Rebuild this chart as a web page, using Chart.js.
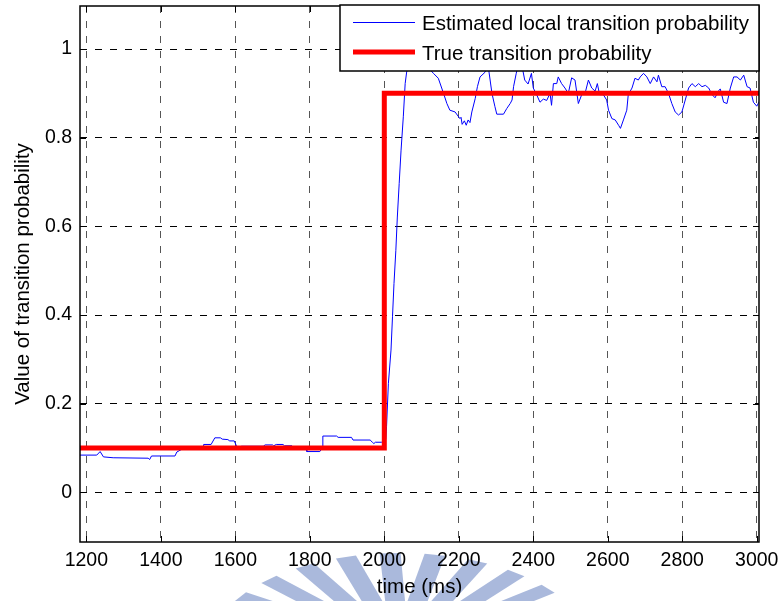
<!DOCTYPE html>
<html>
<head>
<meta charset="utf-8">
<script src="https://cdn.jsdelivr.net/npm/chart.js@4.4.1/dist/chart.umd.min.js"></script>
<style>
  html, body { margin: 0; padding: 0; background: #fff; }
  canvas { display: block; }
</style>
</head>
<body>
<canvas id="myChart" width="779" height="601"></canvas>
<script>
// estimated local transition probability (blue)
const estTime = [
  1183, 1228, 1237, 1246, 1272, 1366, 1370, 1375, 1438, 1443, 1456, 1500, 1514,
  1515, 1535, 1545, 1560, 1565, 1580, 1585, 1597, 1604, 1606, 1617, 1675, 1680,
  1700, 1703, 1710, 1728, 1732, 1752, 1756, 1790, 1792, 1827, 1833, 1835, 1872,
  1876, 1912, 1916, 1962, 1968, 1972, 1976, 1993, 2000,
  2004, 2006, 2011, 2018, 2022, 2026, 2031, 2035, 2040, 2045, 2051, 2056, 2060,
  2070, 2090, 2110, 2121, 2132, 2145, 2159, 2168, 2176, 2190, 2203, 2206, 2209,
  2215, 2220, 2225, 2230, 2235, 2244, 2250, 2257, 2271, 2276, 2280, 2289, 2297,
  2302, 2320, 2329, 2338, 2343, 2347, 2354, 2362, 2370, 2377, 2386, 2395, 2400,
  2409, 2418, 2427, 2436, 2445, 2449, 2454, 2463, 2467, 2476, 2485, 2494, 2503,
  2512, 2521, 2530, 2539, 2548, 2557, 2566, 2572, 2578, 2588, 2597, 2602, 2611,
  2620, 2629, 2634, 2642, 2651, 2655, 2665, 2673, 2682, 2687, 2696, 2705, 2714,
  2723, 2732, 2736, 2745, 2754, 2763, 2772, 2781, 2790, 2799, 2808, 2817, 2826,
  2835, 2844, 2853, 2862, 2871, 2880, 2888, 2897, 2902, 2911, 2920, 2929, 2938,
  2947, 2956, 2965, 2974, 2982, 2991, 3000, 3009
];
const estValue = [
  0.084, 0.084, 0.092, 0.080, 0.078, 0.077, 0.074, 0.082, 0.082, 0.091, 0.097, 0.098, 0.099,
  0.108, 0.108, 0.123, 0.123, 0.120, 0.119, 0.116, 0.116, 0.103, 0.100, 0.104, 0.104, 0.107,
  0.107, 0.105, 0.108, 0.108, 0.105, 0.105, 0.100, 0.099, 0.092, 0.092, 0.100, 0.127, 0.127,
  0.124, 0.124, 0.118, 0.118, 0.113, 0.110, 0.113, 0.113, 0.112,
  0.120, 0.148, 0.246, 0.321, 0.396, 0.471, 0.546, 0.621, 0.697, 0.772, 0.847, 0.922, 0.948,
  0.975, 0.990, 0.980, 0.955, 0.945, 0.934, 0.900, 0.877, 0.862, 0.858, 0.843, 0.846, 0.830,
  0.838, 0.828, 0.840, 0.834, 0.858, 0.888, 0.915, 0.937, 0.948, 0.970, 0.955, 0.900, 0.870,
  0.853, 0.853, 0.866, 0.877, 0.885, 0.915, 0.944, 0.975, 0.960, 0.930, 0.921, 0.945, 0.912,
  0.897, 0.880, 0.887, 0.884, 0.900, 0.873, 0.922, 0.922, 0.937, 0.922, 0.912, 0.900, 0.935,
  0.930, 0.877, 0.897, 0.900, 0.930, 0.912, 0.905, 0.922, 0.897, 0.897, 0.885, 0.862, 0.843,
  0.840, 0.828, 0.821, 0.840, 0.862, 0.897, 0.912, 0.934, 0.930, 0.937, 0.945, 0.937, 0.922,
  0.937, 0.926, 0.941, 0.915, 0.915, 0.900, 0.877, 0.858, 0.851, 0.858, 0.885, 0.912, 0.922,
  0.915, 0.922, 0.915, 0.918, 0.912, 0.897, 0.890, 0.905, 0.910, 0.880, 0.877, 0.912, 0.937,
  0.937, 0.930, 0.941, 0.915, 0.912, 0.880, 0.871, 0.885
];
// true transition probability (red)
const trueTime = [1180, 2000, 2000, 3010];
const trueValue = [0.1, 0.1, 0.9, 0.9];

const xTicks = [1200, 1400, 1600, 1800, 2000, 2200, 2400, 2600, 2800, 3000];
const yTicks = [0, 0.2, 0.4, 0.6, 0.8, 1];
const legendLabels = ['Estimated local transition probability', 'True transition probability'];

const FAMILY = "'Liberation Sans', Arial, Helvetica, sans-serif";

const toPoints = (xs, ys) => xs.map((x, i) => ({ x: x, y: ys[i] }));

// chart.js reserves room for end labels; the matlab plot does not
const noPad = s => { s.paddingLeft = s.paddingRight = s.paddingTop = s.paddingBottom = 0; };

// faint logo stripes behind the axis labels
const watermark = {
  id: 'watermark',
  beforeDraw(chart) {
    const ctx = chart.ctx;
    ctx.save();
    ctx.translate(400, 648);
    ctx.scale(1, 0.5);
    ctx.fillStyle = '#aab9dc';
    for (let i = 0; i < 9; i++) {
      const a = -1.0 + i * 0.237;
      const w = 0.055;
      const r1 = 190, r0 = 90;
      ctx.beginPath();
      ctx.moveTo(r0 * Math.sin(a - w * 2), -r0 * Math.cos(a - w * 2));
      ctx.lineTo(r1 * Math.sin(a - w), -r1 * Math.cos(a - w));
      ctx.lineTo(r1 * Math.sin(a + w), -r1 * Math.cos(a + w));
      ctx.lineTo(r0 * Math.sin(a + w * 2), -r0 * Math.cos(a + w * 2));
      ctx.closePath();
      ctx.fill();
    }
    ctx.restore();
  }
};

// matlab style box, inward ticks and legend
const frame = {
  id: 'frame',
  afterDraw(chart) {
    const { ctx, chartArea: a, scales: { x, y } } = chart;
    ctx.save();
    ctx.strokeStyle = '#000';
    ctx.lineWidth = 1;
    ctx.setLineDash([]);
    ctx.beginPath();
    xTicks.forEach(v => {
      const px = Math.round(x.getPixelForValue(v)) + 0.5;
      ctx.moveTo(px, a.bottom); ctx.lineTo(px, a.bottom - 6);
      ctx.moveTo(px, a.top); ctx.lineTo(px, a.top + 6);
    });
    yTicks.forEach(v => {
      const py = Math.round(y.getPixelForValue(v)) + 0.5;
      ctx.moveTo(a.left, py); ctx.lineTo(a.left + 6, py);
      ctx.moveTo(a.right, py); ctx.lineTo(a.right - 6, py);
    });
    ctx.stroke();
    ctx.lineWidth = 1.5;
    ctx.strokeRect(a.left, a.top, a.right - a.left, a.bottom - a.top);

    // legend box
    const lx = 340, ly = a.top - 1, lw = a.right - lx, lh = 71 - ly;
    ctx.fillStyle = '#fff';
    ctx.fillRect(lx, ly, lw, lh);
    ctx.lineWidth = 1.5;
    ctx.strokeRect(lx, ly, lw, lh);

    ctx.lineCap = 'butt';
    ctx.strokeStyle = '#0000ff';
    ctx.lineWidth = 1;
    ctx.beginPath(); ctx.moveTo(353, 22.5); ctx.lineTo(415, 22.5); ctx.stroke();
    ctx.strokeStyle = '#ff0000';
    ctx.lineWidth = 5;
    ctx.beginPath(); ctx.moveTo(353, 52); ctx.lineTo(415, 52); ctx.stroke();

    ctx.fillStyle = '#000';
    ctx.font = '20.5px ' + FAMILY;
    ctx.textAlign = 'left';
    ctx.textBaseline = 'alphabetic';
    ctx.fillText(legendLabels[0], 422, 30);
    ctx.fillText(legendLabels[1], 422, 59.5);
    ctx.restore();
  }
};

const config = {
  type: 'line',
  data: {
    datasets: [
      {
        label: legendLabels[1],
        data: toPoints(trueTime, trueValue),
        borderColor: '#ff0000',
        borderWidth: 5,
        borderJoinStyle: 'miter',
        pointRadius: 0,
        fill: false,
        clip: 0
      },
      {
        label: legendLabels[0],
        data: toPoints(estTime, estValue),
        borderColor: '#0000ff',
        borderWidth: 1,
        pointRadius: 0,
        tension: 0,
        fill: false,
        clip: 0
      }
    ]
  },
  options: {
    responsive: false,
    animation: false,
    layout: { padding: { top: 6, right: 20, left: 0, bottom: 0 } },
    plugins: {
      legend: { display: false },
      tooltip: { enabled: false }
    },
    scales: {
      x: {
        type: 'linear',
        min: 1183,
        max: 3006,
        afterBuildTicks: s => { s.ticks = xTicks.map(v => ({ value: v })); },
        afterFit: s => { s.height = 59; noPad(s); },
        ticks: {
          autoSkip: false,
          maxRotation: 0,
          padding: 7,
          color: '#000',
          font: { family: FAMILY, size: 19.5 },
          callback: v => String(v)
        },
        grid: { color: '#555', lineWidth: 1, drawTicks: false },
        border: { display: false, dash: [7, 8] },
        title: {
          display: true,
          text: 'time (ms)',
          color: '#000',
          font: { family: FAMILY, size: 20.5 },
          padding: { top: 0, bottom: 1 }
        }
      },
      y: {
        type: 'linear',
        min: -0.112,
        max: 1.097,
        afterBuildTicks: s => { s.ticks = yTicks.map(v => ({ value: v })); },
        afterFit: s => { s.width = 80; noPad(s); },
        ticks: {
          padding: 8,
          color: '#000',
          font: { family: FAMILY, size: 19.5 },
          callback: v => String(Math.round(v * 10) / 10)
        },
        grid: { color: '#000', lineWidth: 1, drawTicks: false },
        border: { display: false, dash: [7, 8] },
        title: {
          display: true,
          text: 'Value of transition probability',
          color: '#000',
          font: { family: FAMILY, size: 20.5 },
          padding: { top: 11, bottom: 0 }
        }
      }
    }
  },
  plugins: [watermark, frame]
};

const myChart = new Chart(document.getElementById('myChart'), config);
</script>
</body>
</html>
